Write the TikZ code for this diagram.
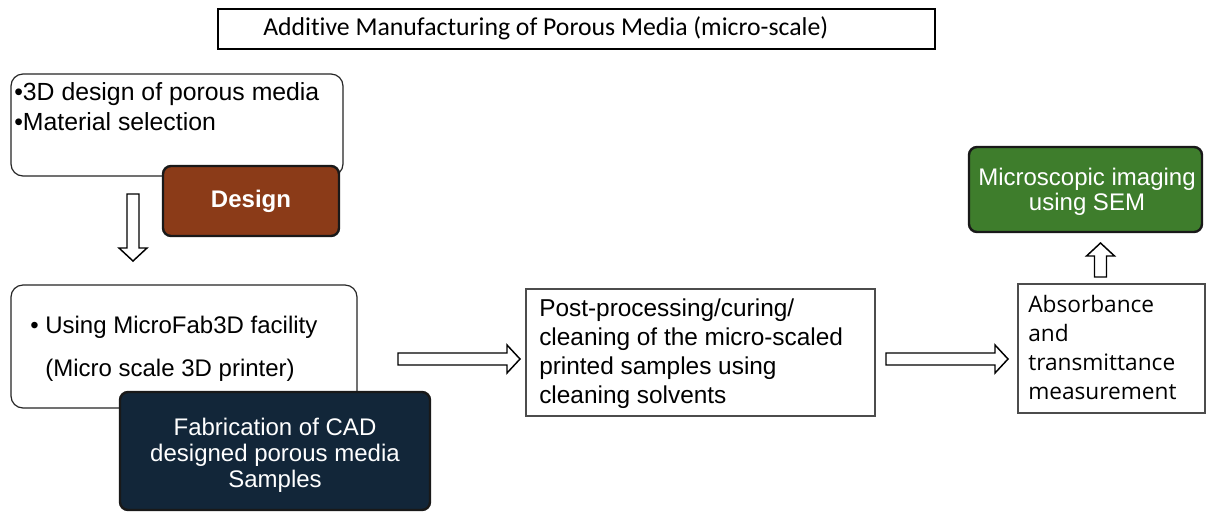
\documentclass[tikz,border=0pt]{standalone}
\usepackage{fontspec}
\setmainfont{Liberation Sans}
\newfontfamily\opensans{Open Sans}
\newfontfamily\carlito[Ligatures=NoCommon]{Carlito}
\usetikzlibrary{calc}
\definecolor{designbrown}{RGB}{139,59,24}
\definecolor{fabnavy}{RGB}{18,38,57}
\definecolor{semgreen}{RGB}{62,125,44}
\newdimen\pxu \pxu=0.75pt
\newcommand{\blockarrow}[2]{%
  \coordinate (hb) at ($(#2)!13\pxu!(#1)$);
  \draw[blockarr] ($(#1)!6\pxu!90:(#2)$) -- ($(hb)!6\pxu!90:(#2)$) -- ($(hb)!14\pxu!90:(#2)$) -- (#2)
     -- ($(hb)!14\pxu!-90:(#2)$) -- ($(hb)!6\pxu!-90:(#2)$) -- ($(#1)!6\pxu!-90:(#2)$) -- cycle;
}
\tikzset{
  titlebox/.style={draw=black, line width=1.1pt, fill=white, inner sep=0pt},
  lightbox/.style={draw=black!85, line width=0.9pt, fill=white, rounded corners=9pt, inner sep=0pt},
  plainbox/.style={draw=black!70, line width=0.8pt, fill=white, inner sep=0pt},
  darkbox/.style={draw=black!90, line width=1.8pt, rounded corners=6pt, inner sep=0pt, text=white},
  blockarr/.style={draw=black, line width=1.1pt, fill=white, line join=miter},
  txt/.style={inner sep=0pt, align=left, font=\fontsize{18}{22}\selectfont},
}
\begin{document}
\begin{tikzpicture}[x=0.75pt,y=-0.75pt]
\useasboundingbox[fill=white] (0,0) rectangle (1207,512);

% title
\node[titlebox, minimum width=717\pxu, minimum height=40\pxu] (title) at (576.5,29) {};
\node[inner sep=0pt, anchor=west, font=\carlito\fontsize{19.3}{22}\selectfont] (titletext) at (263,28.5) {Additive Manufacturing of Porous Media (micro-scale)};

% design
\node[lightbox, minimum width=332\pxu, minimum height=102\pxu] (dbox) at (177,125) {};
\node[txt, anchor=north west, font=\fontsize{18.6}{22.5}\selectfont] (dtext) at (14,82) {•3D design of porous media\\•Material selection};
\node[darkbox, fill=designbrown, minimum width=176\pxu, minimum height=70\pxu, font=\bfseries\fontsize{18}{22}\selectfont] (design) at (251,201) {Design};

% fabrication
\node[lightbox, minimum width=346\pxu, minimum height=123\pxu] (fbox) at (184,346.5) {};
\node[txt, anchor=north west, font=\fontsize{18}{32.25}\selectfont] (ftext) at (30,316) {• Using MicroFab3D facility\\\phantom{• }(Micro scale 3D printer)};
\node[darkbox, fill=fabnavy, minimum width=310\pxu, minimum height=118\pxu] (fab) at (275,451) {};
\node[inner sep=0pt, align=center, text=white, font=\fontsize{18}{19.5}\selectfont] (fabtext) at (275,455) {Fabrication of CAD\\designed porous media\\Samples};

% post-processing
\node[plainbox, minimum width=349\pxu, minimum height=127\pxu] (post) at (700.5,352.5) {};
\node[txt, anchor=north west, font=\fontsize{18.3}{21.75}\selectfont] (posttext) at (539,299) {Post-processing/curing/\\cleaning of the micro-scaled\\printed samples using\\cleaning solvents};

% absorbance
\node[plainbox, minimum width=187\pxu, minimum height=129\pxu] (abs) at (1111.5,348.5) {};
\node[txt, anchor=north west, font=\opensans\fontsize{17}{21.75}\selectfont] (abstext) at (1028,295) {Absorbance\\and\\transmittance\\measurement};

% SEM
\node[darkbox, fill=semgreen, minimum width=233\pxu, minimum height=85\pxu] (sem) at (1085.5,189.5) {};
\node[inner sep=0pt, align=center, text=white, font=\fontsize{18}{18.5}\selectfont] (semtext) at (1087,192) {Microscopic imaging\\using SEM};

% arrows
\coordinate (d1) at (133,194);  \coordinate (d2) at (133,261);
\coordinate (r1) at (398,359);  \coordinate (r2) at (520,359);
\coordinate (s1) at (886,359);  \coordinate (s2) at (1008,359);
\coordinate (u1) at (1100.5,277); \coordinate (u2) at (1100.5,243);
\blockarrow{d1}{d2}
\blockarrow{r1}{r2}
\blockarrow{s1}{s2}
\blockarrow{u1}{u2}
\end{tikzpicture}
\end{document}
